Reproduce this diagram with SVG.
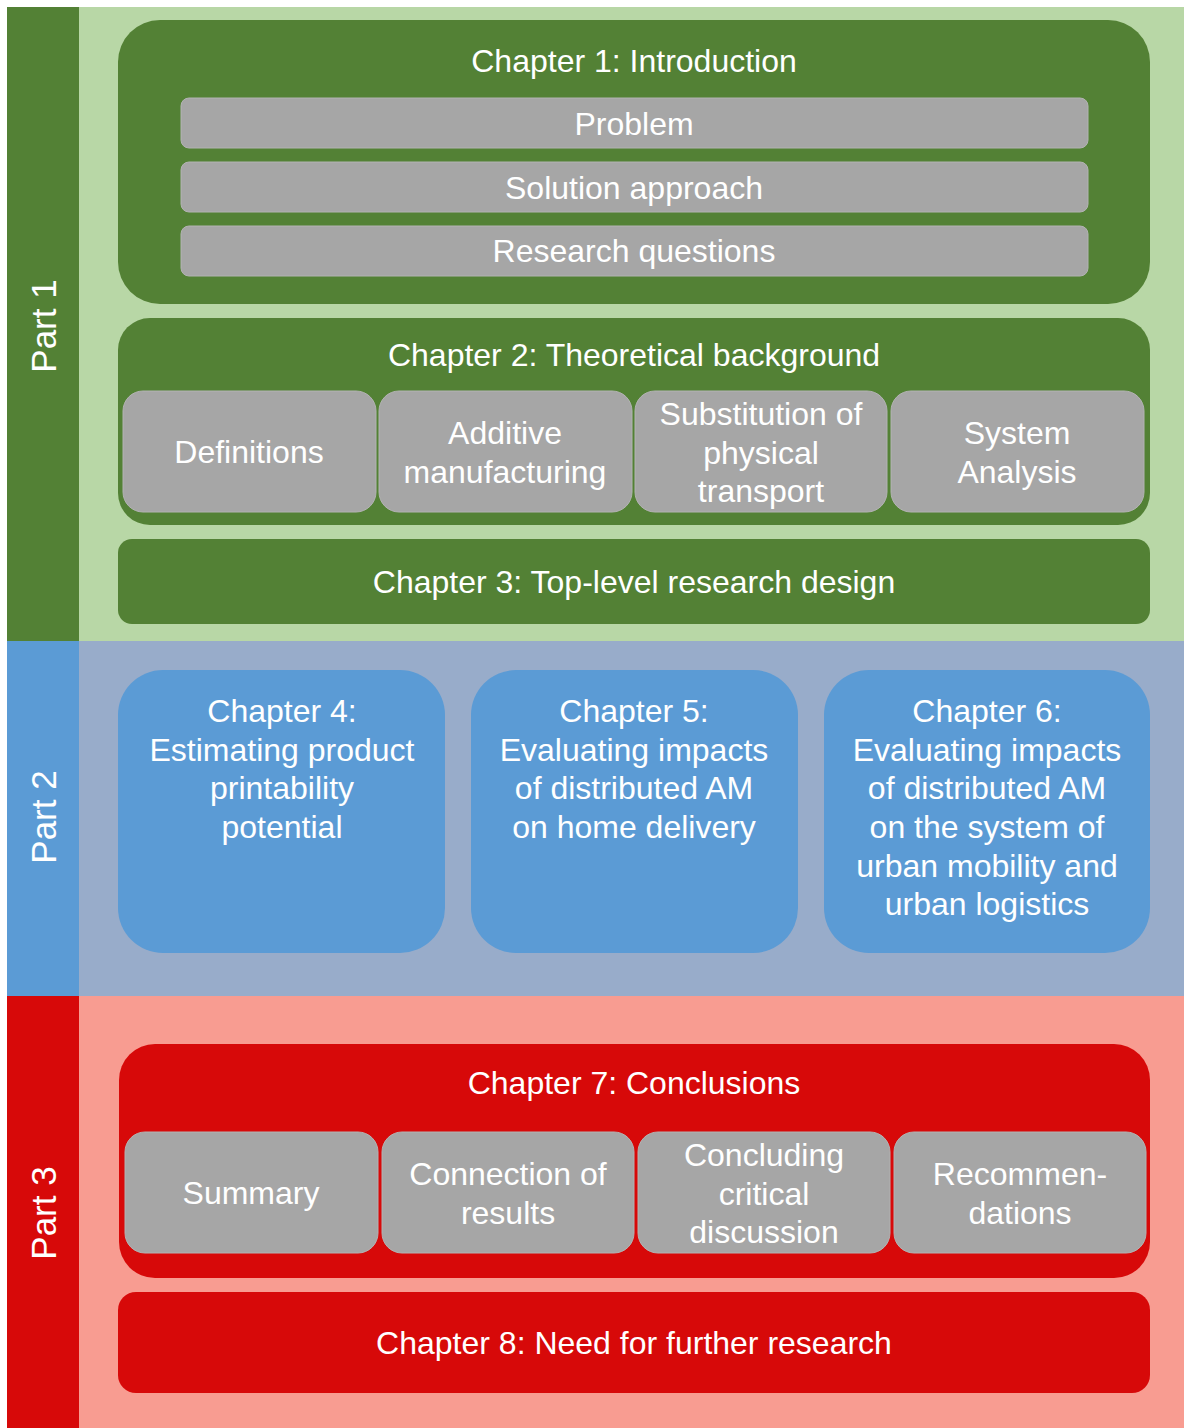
<svg xmlns="http://www.w3.org/2000/svg" width="1184" height="1428" viewBox="0 0 1184 1428">
  <style>
    text { font-family: "Liberation Sans", Arial, sans-serif; font-size: 32px; fill: #ffffff; text-anchor: middle; }
    .part { font-size: 35px; }
    .g1 { fill: #538135; }
    .g2 { fill: #B8D7A6; }
    .b1 { fill: #5B9BD5; }
    .b2 { fill: #98ACCA; }
    .r1 { fill: #D70909; }
    .r2 { fill: #F89C91; }
    .sub { fill: #A6A6A6; stroke: #B3B3B3; stroke-width: 1; }
  </style>
  <rect width="1184" height="1428" fill="#ffffff"/>

  <!-- Part 1 band -->
  <g id="part1">
    <rect class="g1" x="7" y="7" width="72" height="634"/>
    <rect class="g2" x="79" y="7" width="1105" height="634"/>
    <text class="part" transform="translate(56,326) rotate(-90)">Part 1</text>
  </g>

  <!-- Part 2 band -->
  <g id="part2">
    <rect class="b1" x="7" y="641" width="72" height="355"/>
    <rect class="b2" x="79" y="641" width="1105" height="355"/>
    <text class="part" transform="translate(56,817) rotate(-90)">Part 2</text>
  </g>

  <!-- Part 3 band -->
  <g id="part3">
    <rect class="r1" x="7" y="996" width="72" height="432"/>
    <rect class="r2" x="79" y="996" width="1105" height="432"/>
    <text class="part" transform="translate(56,1213) rotate(-90)">Part 3</text>
  </g>

  <!-- Chapter 1 -->
  <g id="chapter1">
    <rect class="g1" x="118" y="20" width="1032" height="284" rx="42"/>
    <text x="634" y="72">Chapter 1: Introduction</text>
    <g id="ch1-problem">
      <rect class="sub" x="181" y="98" width="907" height="50" rx="8"/>
      <text x="634" y="135">Problem</text>
    </g>
    <g id="ch1-solution">
      <rect class="sub" x="181" y="162" width="907" height="50" rx="8"/>
      <text x="634" y="199">Solution approach</text>
    </g>
    <g id="ch1-questions">
      <rect class="sub" x="181" y="226" width="907" height="50" rx="8"/>
      <text x="634" y="262">Research questions</text>
    </g>
  </g>

  <!-- Chapter 2 -->
  <g id="chapter2">
    <rect class="g1" x="118" y="318" width="1032" height="207" rx="32"/>
    <text x="634" y="366">Chapter 2: Theoretical background</text>
    <g id="ch2-definitions">
      <rect class="sub" x="123" y="391" width="253" height="121" rx="20"/>
      <text x="249" y="463">Definitions</text>
    </g>
    <g id="ch2-additive">
      <rect class="sub" x="379" y="391" width="253" height="121" rx="20"/>
      <text x="505" y="444">Additive</text>
      <text x="505" y="483">manufacturing</text>
    </g>
    <g id="ch2-substitution">
      <rect class="sub" x="635" y="391" width="252" height="121" rx="20"/>
      <text x="761" y="425">Substitution of</text>
      <text x="761" y="464">physical</text>
      <text x="761" y="502">transport</text>
    </g>
    <g id="ch2-system">
      <rect class="sub" x="891" y="391" width="253" height="121" rx="20"/>
      <text x="1017" y="444">System</text>
      <text x="1017" y="483">Analysis</text>
    </g>
  </g>

  <!-- Chapter 3 -->
  <g id="chapter3">
    <rect class="g1" x="118" y="539" width="1032" height="85" rx="14"/>
    <text x="634" y="593">Chapter 3: Top-level research design</text>
  </g>

  <!-- Chapters 4-6 -->
  <g id="chapter4">
    <rect class="b1" x="118" y="670" width="327" height="283" rx="45"/>
    <text x="282" y="722">Chapter 4:</text>
    <text x="282" y="761">Estimating product</text>
    <text x="282" y="799">printability</text>
    <text x="282" y="838">potential</text>
  </g>
  <g id="chapter5">
    <rect class="b1" x="471" y="670" width="327" height="283" rx="45"/>
    <text x="634" y="722">Chapter 5:</text>
    <text x="634" y="761">Evaluating impacts</text>
    <text x="634" y="799">of distributed AM</text>
    <text x="634" y="838">on home delivery</text>
  </g>
  <g id="chapter6">
    <rect class="b1" x="824" y="670" width="326" height="283" rx="45"/>
    <text x="987" y="722">Chapter 6:</text>
    <text x="987" y="761">Evaluating impacts</text>
    <text x="987" y="799">of distributed AM</text>
    <text x="987" y="838">on the system of</text>
    <text x="987" y="877">urban mobility and</text>
    <text x="987" y="915">urban logistics</text>
  </g>

  <!-- Chapter 7 -->
  <g id="chapter7">
    <rect class="r1" x="119" y="1044" width="1031" height="234" rx="36"/>
    <text x="634" y="1094">Chapter 7: Conclusions</text>
    <g id="ch7-summary">
      <rect class="sub" x="125" y="1132" width="253" height="121" rx="20"/>
      <text x="251" y="1204">Summary</text>
    </g>
    <g id="ch7-connection">
      <rect class="sub" x="382" y="1132" width="252" height="121" rx="20"/>
      <text x="508" y="1185">Connection of</text>
      <text x="508" y="1224">results</text>
    </g>
    <g id="ch7-discussion">
      <rect class="sub" x="638" y="1132" width="252" height="121" rx="20"/>
      <text x="764" y="1166">Concluding</text>
      <text x="764" y="1205">critical</text>
      <text x="764" y="1243">discussion</text>
    </g>
    <g id="ch7-recommendations">
      <rect class="sub" x="894" y="1132" width="252" height="121" rx="20"/>
      <text x="1020" y="1185">Recommen-</text>
      <text x="1020" y="1224">dations</text>
    </g>
  </g>

  <!-- Chapter 8 -->
  <g id="chapter8">
    <rect class="r1" x="118" y="1292" width="1032" height="101" rx="18"/>
    <text x="634" y="1354">Chapter 8: Need for further research</text>
  </g>

  <!-- no connectors in this layout -->
  <g id="connectors"/>
</svg>
